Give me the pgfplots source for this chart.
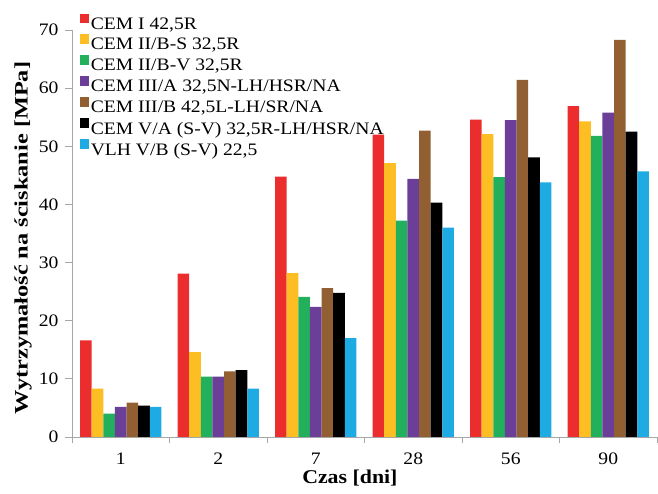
\documentclass[border=0pt]{standalone}
\usepackage{pgfplots}
\usepackage{pgfplotstable}
\pgfplotsset{compat=1.18}
\usepackage{fontspec}
\setmainfont{Liberation Serif}[FakeStretch=1.12]
\newfontfamily\ylabfont{Liberation Serif}[FakeStretch=1.28]

\definecolor{cred}{HTML}{EC2D2D}
\definecolor{cyellow}{HTML}{FDBE24}
\definecolor{cgreen}{HTML}{22B05C}
\definecolor{cpurple}{HTML}{6B3F98}
\definecolor{cbrown}{HTML}{925F32}
\definecolor{cblack}{HTML}{000000}
\definecolor{cblue}{HTML}{1EAAE2}
\definecolor{axgray}{HTML}{A6A6A6}

\pgfplotstableread{
x red yellow green purple brown black blue
0 16.6 8.3 4.0 5.2 5.9 5.4 5.2
1 28.1 14.6 10.4 10.4 11.3 11.5 8.3
2 44.8 28.2 24.1 22.4 25.6 24.8 17.0
3 52.0 47.1 37.2 44.4 52.7 40.3 36.0
4 54.6 52.1 44.7 54.5 61.4 48.1 43.8
5 56.9 54.3 51.8 55.8 68.3 52.5 45.7
}\datatable

\begin{document}
\begin{tikzpicture}
\begin{axis}[
  scale only axis,
  width=585pt, height=407pt,
  ybar=0pt,
  bar width=0.119,
  xmin=-0.5, xmax=5.5,
  ymin=0, ymax=70,
  ytick={0,10,...,70},
  xtick={0,...,5},
  xticklabels={1,2,7,28,56,90},
  minor xtick={-0.5,0.5,...,5.5},
  axis x line=bottom, axis y line=left,
  axis line style={-, draw=axgray, line width=0.9pt},
  tick align=outside,
  major x tick style={draw=none},
  minor x tick style={draw=axgray, line width=0.8pt},
  minor tick length=6pt,
  major y tick style={draw=axgray, line width=0.8pt},
  major tick length=7pt,
  /pgf/number format/assume math mode=true,
  tick label style={font=\fontsize{17.5}{20}\selectfont},
  xticklabel style={inner sep=0pt, yshift=-9pt},
  yticklabel style={xshift=-3pt},
  ylabel={Wytrzymałość na ściskanie [MPa]},
  xlabel={Czas [dni]},
  xlabel style={font=\fontsize{19.5}{22}\selectfont\bfseries, inner sep=0pt,
    at={(axis description cs:0.475,0)}, anchor=base, yshift=-47pt},
  ylabel style={font=\fontsize{19}{22}\selectfont\ylabfont\bfseries,
    at={(axis description cs:-0.0838,0.489)}, anchor=center},
  legend style={at={(rel axis cs:0.013,1.041)}, anchor=north west,
    draw=none, fill=none, inner sep=0pt,
    font=\fontsize{17.5}{19}\selectfont,
    row sep=2.4pt,
    nodes={inner sep=1.5pt}},
  legend cell align=left,
  legend image code/.code={\fill[#1,draw=none] (0pt,1.0pt) rectangle (9.5pt,10.5pt);},
  clip=false,
]
\addplot[fill=cred, draw=none] table[x=x, y=red] {\datatable};
\addplot[fill=cyellow, draw=none] table[x=x, y=yellow] {\datatable};
\addplot[fill=cgreen, draw=none] table[x=x, y=green] {\datatable};
\addplot[fill=cpurple, draw=none] table[x=x, y=purple] {\datatable};
\addplot[fill=cbrown, draw=none] table[x=x, y=brown] {\datatable};
\addplot[fill=cblack, draw=none] table[x=x, y=black] {\datatable};
\addplot[fill=cblue, draw=none] table[x=x, y=blue] {\datatable};
\legend{{CEM I 42,5R}, {CEM II/B-S 32,5R}, {CEM II/B-V 32,5R}, {CEM III/A 32,5N-LH/HSR/NA}, {CEM III/B 42,5L-LH/SR/NA}, {CEM V/A (S-V) 32,5R-LH/HSR/NA}, {VLH V/B (S-V) 22,5}}
\coordinate (O) at (rel axis cs:0,0);
\coordinate (T) at (rel axis cs:1,1);
\end{axis}
\path ([shift={(-72pt,-57pt)}]O) rectangle ([shift={(1pt,30pt)}]T);
\end{tikzpicture}
\end{document}
